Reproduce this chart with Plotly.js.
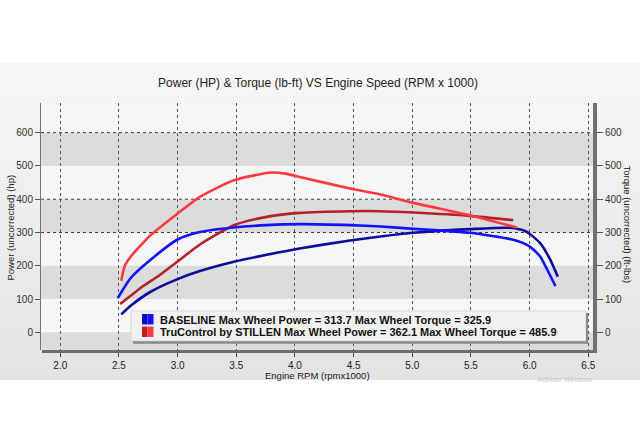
<!DOCTYPE html>
<html>
<head>
<meta charset="utf-8">
<script src="https://cdn.plot.ly/plotly-3.0.1.min.js"></script>
<style>
  html, body { margin: 0; padding: 0; background: #ffffff; }
  #bg { position: absolute; left: 0; top: 63px; width: 640px; height: 317px;
        background: linear-gradient(to bottom, #f8f8f8 0%, #eeeeee 45%, #e3e3e3 100%); }
  #chart { position: absolute; left: 0; top: 0; width: 640px; height: 444px; }
</style>
</head>
<body>
<div id="bg"></div>
<div id="chart"></div>
<script>
// ---- Data ----
const baseTorqueRpm = [2.49, 2.60, 2.77, 3.00, 3.20, 3.48, 3.76, 4.04, 4.47, 4.73, 5.01, 5.49, 5.86, 6.00, 6.09, 6.15, 6.22];
const baseTorque    = [103, 163, 218, 279, 302, 315, 322, 325, 322, 318, 311, 299, 278, 258, 228, 188, 139];

const basePowerRpm  = [2.52, 2.60, 2.77, 3.00, 3.19, 3.48, 3.76, 4.04, 4.47, 4.73, 5.01, 5.49, 5.83, 5.97, 6.09, 6.17, 6.24];
const basePower     = [54, 80, 122, 160, 184, 212, 233, 252, 276, 288, 299, 310, 314, 303, 268, 222, 167];

const stilTorqueRpm = [2.52, 2.55, 2.60, 2.77, 3.00, 3.19, 3.48, 3.80, 3.93, 4.04, 4.47, 4.73, 5.01, 5.49, 5.89];
const stilTorque    = [155, 200, 227, 292, 357, 407, 457, 480, 476, 467, 432, 414, 389, 352, 315];

const stilPowerRpm  = [2.51, 2.60, 2.71, 2.84, 3.00, 3.19, 3.48, 3.76, 4.04, 4.47, 4.73, 5.01, 5.49, 5.86];
const stilPower     = [85, 110, 140, 170, 213, 264, 322, 347, 359, 364, 364, 360, 350, 337];

const legendLabels = [
  "BASELINE Max Wheel Power = 313.7 Max Wheel Torque = 325.9",
  "TruControl by STILLEN Max Wheel Power = 362.1 Max Wheel Torque = 485.9"
];
const xTicks = [2.0, 2.5, 3.0, 3.5, 4.0, 4.5, 5.0, 5.5, 6.0, 6.5];
const yTicks = [0, 100, 200, 300, 400, 500, 600];
const darkBands = [[500, 600], [300, 400], [100, 200], [-60, 0]];
const dottedLevels = [300, 400, 600];

// ---- Layout helpers (pixel -> paper) ----
const L = 41, R = 593, T = 103, B = 350, W = 640, H = 444;
const px = x => (x - L) / (R - L);
const py = y => (B - y) / (B - T);

const FONT = "Liberation Sans, Arial, sans-serif";
const SM = 0.6;

const traces = [
  { x: basePowerRpm, y: basePower, name: "BASELINE Power", type: "scatter", mode: "lines",
    line: { color: "#0c0c9e", width: 2.6, shape: "spline", smoothing: SM }, yaxis: "y", showlegend: false },
  { x: baseTorqueRpm, y: baseTorque, name: "BASELINE Torque", type: "scatter", mode: "lines",
    line: { color: "#1212ff", width: 2.6, shape: "spline", smoothing: SM }, yaxis: "y2", showlegend: false },
  { x: stilPowerRpm, y: stilPower, name: "STILLEN Power", type: "scatter", mode: "lines",
    line: { color: "#b22226", width: 2.6, shape: "spline", smoothing: SM }, yaxis: "y", showlegend: false },
  { x: stilTorqueRpm, y: stilTorque, name: "STILLEN Torque", type: "scatter", mode: "lines",
    line: { color: "#ff3a3f", width: 2.6, shape: "spline", smoothing: SM }, yaxis: "y2", showlegend: false }
];

const shapes = [];
darkBands.forEach(b => shapes.push({ type: "rect", xref: "paper", yref: "y", x0: 0, x1: 1, y0: b[0], y1: b[1],
  fillcolor: "#dcdcdc", line: { width: 0 }, layer: "below" }));
dottedLevels.forEach(v => shapes.push({ type: "line", xref: "paper", yref: "y", x0: 0, x1: 1, y0: v, y1: v,
  line: { color: "#3a3a3a", width: 1, dash: "dot" }, layer: "between" }));
// frame: bottom shadow and right thick border
shapes.push({ type: "line", xref: "paper", yref: "paper", x0: px(42), x1: px(597), y0: py(351.5), y1: py(351.5),
  line: { color: "#6e6e6e", width: 3 }, layer: "above" });
shapes.push({ type: "line", xref: "paper", yref: "paper", x0: px(595), x1: px(595), y0: py(103), y1: py(353),
  line: { color: "#707070", width: 4 }, layer: "above" });
// legend box + shadow
shapes.push({ type: "rect", xref: "paper", yref: "paper", x0: px(131), x1: px(586), y0: py(341), y1: py(311),
  fillcolor: "#f1f1f1", line: { color: "#d6d6d6", width: 1 }, layer: "above" });
shapes.push({ type: "line", xref: "paper", yref: "paper", x0: px(133), x1: px(588), y0: py(342.5), y1: py(342.5),
  line: { color: "#8a8a8a", width: 2.5 }, layer: "above" });
shapes.push({ type: "line", xref: "paper", yref: "paper", x0: px(587), x1: px(587), y0: py(313), y1: py(343.5),
  line: { color: "#8a8a8a", width: 2 }, layer: "above" });
// legend swatches
shapes.push({ type: "rect", xref: "paper", yref: "paper", x0: px(142), x1: px(147.5), y0: py(324.5), y1: py(314),
  fillcolor: "#0606c8", line: { width: 0 }, layer: "above" });
shapes.push({ type: "rect", xref: "paper", yref: "paper", x0: px(147.5), x1: px(153.5), y0: py(324.5), y1: py(314),
  fillcolor: "#1414ff", line: { width: 0 }, layer: "above" });
shapes.push({ type: "rect", xref: "paper", yref: "paper", x0: px(142), x1: px(147.5), y0: py(337), y1: py(326.5),
  fillcolor: "#be1e24", line: { width: 0 }, layer: "above" });
shapes.push({ type: "rect", xref: "paper", yref: "paper", x0: px(147.5), x1: px(153.5), y0: py(337), y1: py(326.5),
  fillcolor: "#ff3a3f", line: { width: 0 }, layer: "above" });

const annotations = [
  { text: legendLabels[0], xref: "paper", yref: "paper", x: px(158), y: py(319.5), xanchor: "left", yanchor: "middle",
    showarrow: false, font: { family: FONT, size: 11, color: "#111111", weight: "bold" } },
  { text: legendLabels[1], xref: "paper", yref: "paper", x: px(158), y: py(331.8), xanchor: "left", yanchor: "middle",
    showarrow: false, font: { family: FONT, size: 11, color: "#111111", weight: "bold" } },
  { text: "Power (uncorrected) (hp)", xref: "paper", yref: "paper", x: px(9.5), y: py(228), textangle: -90,
    xanchor: "center", yanchor: "middle", showarrow: false, font: { family: FONT, size: 9.5, color: "#222222" } },
  { text: "Torque (uncorrected) (ft-lbs)", xref: "paper", yref: "paper", x: px(627), y: py(224.5), textangle: 90,
    xanchor: "center", yanchor: "middle", showarrow: false, font: { family: FONT, size: 9.5, color: "#222222" } },
  { text: "Engine RPM (rpmx1000)", xref: "paper", yref: "paper", x: px(317), y: py(376), xanchor: "center", yanchor: "middle",
    showarrow: false, font: { family: FONT, size: 9.5, color: "#222222" } },
  { text: "Activate Windows", xref: "paper", yref: "paper", x: px(565), y: py(379), xanchor: "center", yanchor: "middle",
    showarrow: false, font: { family: FONT, size: 7, color: "#c9c9c9" } }
];

const layout = {
  width: W, height: H,
  margin: { l: L, r: W - R, t: T, b: H - B, pad: 0 },
  paper_bgcolor: "rgba(0,0,0,0)",
  plot_bgcolor: "#f6f6f6",
  showlegend: false,
  title: { text: "Power (HP) &amp; Torque (lb-ft) VS Engine Speed (RPM x 1000)",
    x: 318 / W, xref: "container", xanchor: "center", y: 1 - 82.5 / H, yref: "container", yanchor: "middle",
    font: { family: FONT, size: 12, color: "#222222" } },
  xaxis: {
    range: [1.836, 6.54], tickvals: xTicks, ticktext: xTicks.map(v => v.toFixed(1)),
    showgrid: true, gridcolor: "#5a5a5a", griddash: "dot", gridwidth: 1,
    zeroline: false, showline: false,
    ticks: "outside", ticklen: 6, tickcolor: "#444444",
    tickfont: { family: FONT, size: 10, color: "#222222" }, automargin: false, fixedrange: true
  },
  yaxis: {
    range: [-53, 689], tickvals: yTicks, ticktext: yTicks.map(String),
    showgrid: false, zeroline: false,
    showline: true, linecolor: "#777777", linewidth: 1,
    ticks: "outside", ticklen: 5, tickcolor: "#555555",
    tickfont: { family: FONT, size: 10, color: "#333333" }, automargin: false, fixedrange: true
  },
  yaxis2: {
    range: [-53, 689], tickvals: yTicks, ticktext: yTicks.map(String),
    overlaying: "y", side: "right",
    showgrid: false, zeroline: false, showline: false,
    ticks: "outside", ticklen: 9, tickcolor: "#555555",
    tickfont: { family: FONT, size: 10, color: "#333333" }, automargin: false, fixedrange: true
  },
  shapes: shapes,
  annotations: annotations
};

Plotly.newPlot("chart", traces, layout, { displayModeBar: false, staticPlot: true });
</script>
</body>
</html>
